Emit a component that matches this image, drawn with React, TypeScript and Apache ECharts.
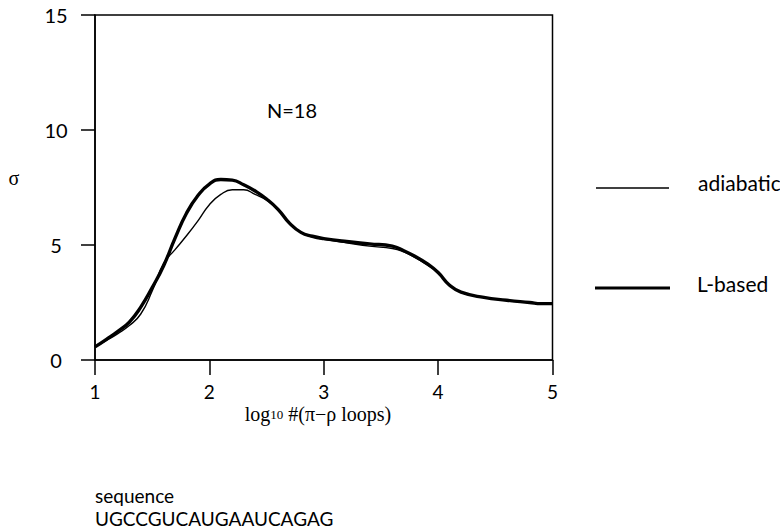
import React, { useEffect, useRef } from "react";
import * as echarts from "echarts";

const xTickValues = [1, 2, 3, 4, 5];
const yTickValues = [0, 5, 10, 15];

const adiabaticX = [1.0, 1.1, 1.2, 1.3, 1.4, 1.5, 1.6, 1.7, 1.8, 1.9, 2.0, 2.1, 2.2, 2.3, 2.4, 2.5, 2.6, 2.7, 2.8, 2.9, 3.0, 3.2, 3.4, 3.6, 3.7, 3.8, 3.9, 4.0, 4.1, 4.2, 4.4, 4.6, 4.8, 4.9, 5.0];
const adiabaticY = [0.57, 0.85, 1.15, 1.5, 2.0, 3.0, 4.2, 4.8, 5.4, 6.05, 6.75, 7.2, 7.4, 7.4, 7.2, 6.95, 6.55, 5.95, 5.55, 5.35, 5.25, 5.1, 4.95, 4.85, 4.7, 4.45, 4.15, 3.8, 3.25, 2.95, 2.72, 2.6, 2.5, 2.45, 2.45];

const lBasedX = [1.0, 1.1, 1.2, 1.3, 1.4, 1.5, 1.6, 1.7, 1.8, 1.9, 2.0, 2.1, 2.2, 2.3, 2.4, 2.5, 2.6, 2.7, 2.8, 2.9, 3.0, 3.2, 3.4, 3.6, 3.7, 3.8, 3.9, 4.0, 4.1, 4.2, 4.4, 4.6, 4.8, 4.9, 5.0];
const lBasedY = [0.57, 0.9, 1.25, 1.65, 2.3, 3.15, 4.1, 5.3, 6.38, 7.15, 7.65, 7.85, 7.82, 7.62, 7.35, 7.0, 6.55, 5.95, 5.55, 5.38, 5.28, 5.15, 5.05, 4.95, 4.75, 4.5, 4.2, 3.8, 3.25, 2.95, 2.72, 2.6, 2.5, 2.45, 2.45];

const seriesNames = ["adiabatic", "L-based"];
const annotation = "N=18";
const yTitle = "σ";
const sequenceLabel = "sequence";
const sequenceText = "UGCCGUCAUGAAUCAGAG";

const SANS = "Lato, 'Open Sans', sans-serif";
const SERIF = "'Liberation Serif', 'DejaVu Serif', serif";

export default function App() {
  const ref = useRef<HTMLDivElement>(null);
  useEffect(() => {
    if (!ref.current) return;
    const chart = echarts.init(ref.current, undefined, { renderer: "svg" });
    const adiabatic = adiabaticX.map((x, i) => [x, adiabaticY[i]]);
    const lBased = lBasedX.map((x, i) => [x, lBasedY[i]]);
    chart.setOption({
      animation: false,
      backgroundColor: "#ffffff",
      grid: {
        left: 95,
        right: 227.5,
        top: 15,
        bottom: 171,
        show: true,
        borderColor: "#000",
        borderWidth: 1.5,
        backgroundColor: "transparent",
      },
      xAxis: {
        type: "value",
        min: xTickValues[0],
        max: xTickValues[xTickValues.length - 1],
        interval: 1,
        axisLine: { show: true, lineStyle: { color: "#000", width: 1.5 } },
        axisTick: { show: true, inside: false, length: 15, lineStyle: { color: "#000", width: 1.5 } },
        splitLine: { show: false },
        axisLabel: { color: "#000", fontSize: 19, lineHeight: 16, fontFamily: SANS, margin: 23 },
      },
      yAxis: {
        type: "value",
        min: yTickValues[0],
        max: yTickValues[yTickValues.length - 1],
        interval: 5,
        axisLine: { show: true, lineStyle: { color: "#000", width: 1.5 } },
        axisTick: { show: true, inside: false, length: 14, lineStyle: { color: "#000", width: 1.5 } },
        splitLine: { show: false },
        axisLabel: { color: "#000", fontSize: 20, fontFamily: SANS, margin: 39, align: "center" },
      },
      series: [
        {
          name: seriesNames[0],
          type: "line",
          data: adiabatic,
          smooth: true,
          showSymbol: false,
          color: "#000",
          lineStyle: { color: "#000", width: 1.4 },
        },
        {
          name: seriesNames[1],
          type: "line",
          data: lBased,
          smooth: true,
          showSymbol: false,
          color: "#000",
          lineStyle: { color: "#000", width: 3.4 },
        },
      ],
      graphic: [
        {
          type: "line",
          shape: { x1: 596, y1: 188, x2: 669, y2: 188 },
          style: { stroke: "#000", lineWidth: 1.5 },
        },
        {
          type: "text",
          x: 698,
          y: 182,
          style: { text: seriesNames[0], fontSize: 21, fontFamily: SANS, fill: "#000", align: "left", verticalAlign: "middle" },
        },
        {
          type: "line",
          shape: { x1: 595, y1: 288, x2: 670, y2: 288 },
          style: { stroke: "#000", lineWidth: 3.2 },
        },
        {
          type: "text",
          x: 697,
          y: 283,
          style: { text: seriesNames[1], fontSize: 21, fontFamily: SANS, fill: "#000", align: "left", verticalAlign: "middle" },
        },
        {
          type: "text",
          x: 14,
          y: 178,
          style: { text: yTitle, fontSize: 20, fontFamily: SERIF, fill: "#000", align: "center", verticalAlign: "middle" },
        },
        {
          type: "text",
          x: 292,
          y: 110,
          style: { text: annotation, fontSize: 20, fontFamily: SANS, fill: "#000", align: "center", verticalAlign: "middle" },
        },
        {
          type: "text",
          x: 318,
          y: 414,
          style: {
            text: "{a|log}{b|10}{a| #(π−ρ loops)}",
            align: "center",
            verticalAlign: "middle",
            fill: "#000",
            rich: {
              a: { fontSize: 20, lineHeight: 18, fontFamily: SERIF, fill: "#000" },
              b: { fontSize: 13, lineHeight: 18, fontFamily: SERIF, fill: "#000" },
            },
          },
        },
        {
          type: "text",
          x: 95,
          y: 507,
          style: {
            text: sequenceLabel + "\n" + sequenceText,
            fontSize: 19,
            lineHeight: 23,
            fontFamily: SANS,
            fill: "#000",
            align: "left",
            verticalAlign: "middle",
          },
        },
      ],
    });
    return () => chart.dispose();
  }, []);
  return <div ref={ref} style={{ position: "absolute", left: 0, top: 0, width: 780, height: 531 }} />;
}
